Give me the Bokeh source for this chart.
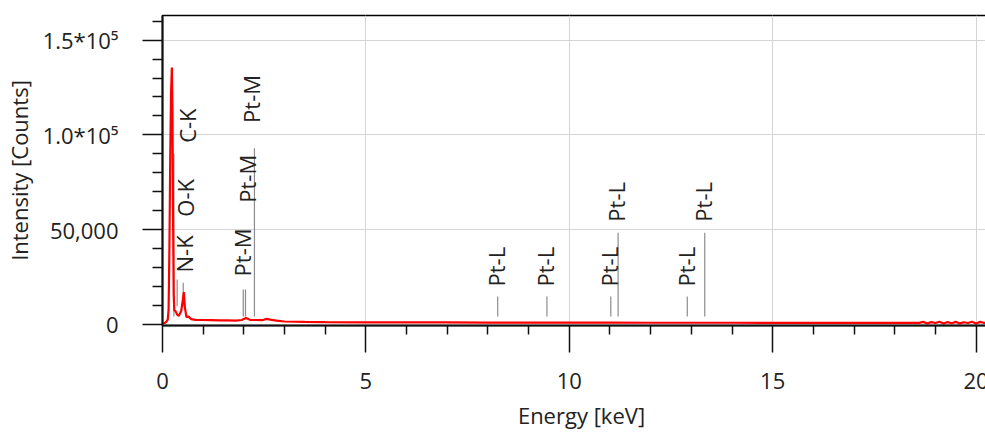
from math import pi
from bokeh.plotting import figure
from bokeh.models import FixedTicker, Range1d, ColumnDataSource
from bokeh.core.properties import value
from bokeh.embed import file_html
from bokeh.resources import INLINE

# ---- spectrum (energy in keV, intensity in counts) ----
energy = [0.00, 0.05, 0.10, 0.13, 0.15, 0.17, 0.19, 0.21, 0.23, 0.245, 0.26, 0.275,
          0.29, 0.32, 0.36, 0.40, 0.46, 0.50, 0.524, 0.55, 0.59, 0.64, 0.70, 0.81,
          1.00, 1.20, 1.40, 1.60, 1.80, 1.95, 2.05, 2.15, 2.30, 2.45, 2.56, 2.65,
          2.80, 3.00, 3.50, 4.00, 5.00, 6.00, 7.00, 8.00, 9.00, 10.00, 11.00, 12.00,
          13.00, 14.00, 15.00, 16.00, 17.00, 18.00, 18.50,
          18.60, 18.70, 18.80, 18.90, 19.00, 19.10, 19.20, 19.30, 19.40, 19.50, 19.60,
          19.70, 19.80, 19.90, 20.00, 20.10, 20.20, 20.30, 20.40, 20.50, 20.60]
counts = [500, 700, 1500, 2600, 8000, 40000, 88000, 122000, 135500, 112000, 55000, 16000,
          7500, 7000, 5200, 4400, 7000, 13000, 17000, 9000, 3700, 4200, 2800, 2400,
          2300, 2200, 2100, 2100, 2000, 2300, 3400, 2400, 2300, 2200, 2900, 2500,
          2000, 1500, 1300, 1200, 1100, 1000, 1000, 950, 950, 900, 900, 850,
          850, 850, 800, 800, 800, 800, 800,
          800, 1300, 500, 1200, 700, 1400, 400, 1200, 600, 1300, 500,
          1100, 700, 1400, 500, 1300, 700, 1200, 500, 1100, 800]

# ---- element line markers ----
marker_energy = [0.28, 0.36, 0.51, 1.985, 2.04, 2.26, 8.24, 9.45, 11.02, 11.20, 12.90, 13.33]
marker_low = [4200, 9500, 9500, 4200, 4200, 4200, 4200, 4200, 4200, 4200, 4200, 4200]
marker_high = [90000, 23700, 22000, 18400, 18400, 93000, 14700, 14700, 14700, 48400, 14700, 48400]
label_text = ["C-K", "N-K", "O-K", "Pt-M", "Pt-M", "Pt-M",
              "Pt-L", "Pt-L", "Pt-L", "Pt-L", "Pt-L", "Pt-L"]
label_energy = [0.60, 0.52, 0.55, 1.96, 2.07, 2.18, 8.20, 9.40, 10.98, 11.16, 12.86, 13.29]
label_base = [95800, 27400, 56800, 25300, 64200, 106300, 20000, 20000, 20000, 54200, 20000, 54200]

# ---- ticks ----
x_ticks = [0, 5, 10, 15, 20]
x_minor_ticks = [1, 2, 3, 4, 6, 7, 8, 9, 11, 12, 13, 14, 16, 17, 18, 19]
y_ticks = [0, 50000, 100000, 150000]
y_tick_labels = ["0", "50,000", "1.0*10\u2075", "1.5*10\u2075"]
y_minor_ticks = [10000, 20000, 30000, 40000, 60000, 70000, 80000, 90000,
                 110000, 120000, 130000, 140000, 160000]

FONT = "Open Sans"

p = figure(width=1000, height=445, output_backend="svg", toolbar_location=None,
           x_range=Range1d(0, 20.6), y_range=Range1d(-600, 163000),
           min_border_left=162, min_border_right=0, min_border_top=15,
           min_border_bottom=120)
p.background_fill_color = "white"
p.border_fill_color = "white"
p.outline_line_color = "black"
p.outline_line_width = 1.5

p.xgrid.ticker = FixedTicker(ticks=x_ticks)
p.ygrid.ticker = FixedTicker(ticks=y_ticks)
p.grid.grid_line_color = "#d4d4d4"
p.grid.grid_line_width = 1

xa = p.xaxis[0]
xa.ticker = FixedTicker(ticks=x_ticks, minor_ticks=x_minor_ticks)
xa.axis_label = "Energy [keV]"
xa.major_tick_out = 27
xa.major_tick_in = 0
xa.minor_tick_out = 9
xa.minor_tick_in = 0
xa.major_label_standoff = 20
xa.axis_label_standoff = 8

ya = p.yaxis[0]
ya.ticker = FixedTicker(ticks=y_ticks, minor_ticks=y_minor_ticks)
ya.major_label_overrides = {t: l for t, l in zip(y_ticks, y_tick_labels)}
ya.axis_label = "Intensity [Counts]"
ya.major_tick_out = 20
ya.major_tick_in = 0
ya.minor_tick_out = 10
ya.minor_tick_in = 0
ya.major_label_standoff = 24
ya.axis_label_standoff = 6

for ax in (xa, ya):
    ax.axis_line_color = "#111111"
    ax.axis_line_width = 2
    ax.major_tick_line_color = "#111111"
    ax.major_tick_line_width = 1.5
    ax.minor_tick_line_color = "#111111"
    ax.minor_tick_line_width = 1.5
    ax.major_label_text_font = FONT
    ax.major_label_text_font_size = "22px"
    ax.major_label_text_color = "#222222"
    ax.axis_label_text_font = FONT
    ax.axis_label_text_font_size = "22px"
    ax.axis_label_text_font_style = "normal"
    ax.axis_label_text_color = "#222222"

marks = ColumnDataSource(dict(e=marker_energy, lo=marker_low, hi=marker_high))
p.segment(x0="e", y0="lo", x1="e", y1="hi", source=marks,
          line_color="#8c8c8c", line_width=1.2)

spec = ColumnDataSource(dict(e=energy, c=counts))
p.line(x="e", y="c", source=spec, line_color="#ff0000", line_width=2.2)

labels = ColumnDataSource(dict(x=label_energy, y=label_base, t=label_text))
p.text(x="x", y="y", text="t", source=labels, angle=pi / 2,
       text_align="left", text_baseline="middle",
       text_font=value(FONT), text_font_size="22px", text_color="#222222")

open("out.html", "w").write(file_html(p, INLINE))
